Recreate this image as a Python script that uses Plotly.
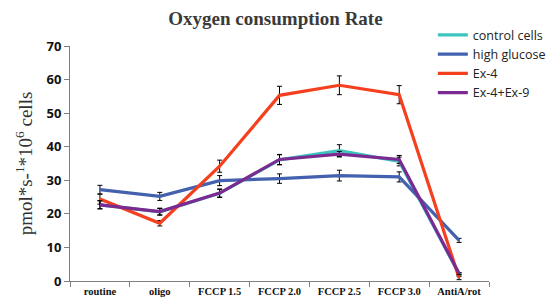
import plotly.graph_objects as go

categories = ["routine", "oligo", "FCCP 1.5", "FCCP 2.0", "FCCP 2.5", "FCCP 3.0", "AntiA/rot"]

control_vals = [22.7, 20.6, 26.1, 36.1, 38.8, 35.6, 2.1]
control_err = [1.2, 1.0, 1.2, 1.5, 1.8, 1.3, 0.3]
hg_vals = [27.2, 25.2, 29.9, 30.5, 31.4, 31.0, 12.1]
hg_err = [1.3, 1.2, 1.5, 1.4, 1.6, 1.5, 0.6]
ex4_vals = [24.4, 17.2, 34.2, 55.3, 58.3, 55.5, 0.9]
ex4_err = [1.5, 0.8, 1.8, 2.7, 2.8, 2.7, 0.5]
ex49_vals = [22.7, 20.7, 26.2, 36.2, 37.8, 36.2, 2.2]
ex49_err = [1.2, 1.0, 1.2, 1.5, 0.8, 1.2, 0.3]

series = [
    ("control cells", control_vals, control_err, "#3CC4BF"),
    ("high glucose", hg_vals, hg_err, "#4361AE"),
    ("Ex-4", ex4_vals, ex4_err, "#F4401E"),
    ("Ex-4+Ex-9", ex49_vals, ex49_err, "#7B2A91"),
]

fig = go.Figure()
for name, vals, err, col in series:
    fig.add_trace(go.Scatter(
        x=categories, y=vals, name=name, mode="lines",
        line=dict(color=col, width=3.2),
        error_y=dict(type="data", array=err, color="black", thickness=1, width=2.5),
    ))

fig.update_layout(
    width=551, height=303,
    margin=dict(l=70, r=62, t=46, b=22, autoexpand=False),
    paper_bgcolor="white", plot_bgcolor="white",
    title=dict(text="<b>Oxygen consumption Rate</b>", x=0.5, xanchor="center", y=0.94, yanchor="middle",
               font=dict(family="Liberation Serif", size=19, color="#3a3a3a")),
    showlegend=True,
    legend=dict(x=0.866, y=1.11, xanchor="left", yanchor="top", bgcolor="rgba(0,0,0,0)",
                font=dict(family="Open Sans", size=12.5, color="#222222"),
                itemwidth=30, tracegroupgap=0),
    xaxis=dict(type="category", range=[-0.5, 6.5], showline=True, linecolor="#7f7f7f", linewidth=1,
               ticks="outside", tickson="boundaries", ticklen=5, tickcolor="#7f7f7f",
               showgrid=False, zeroline=False, tickangle=0, automargin=False,
               tickfont=dict(family="Liberation Serif", size=10.5, color="#111111"),
               tickprefix="<b>", ticksuffix="</b>"),
    yaxis=dict(range=[0, 70], dtick=10, showline=True, linecolor="#7f7f7f", linewidth=1,
               ticks="outside", ticklen=5, tickcolor="#7f7f7f", showgrid=False, zeroline=False,
               tickfont=dict(family="Open Sans", size=13, color="#111111"),
               tickprefix="<b>", ticksuffix="</b>", automargin=False,
               title=dict(text="pmol*s-<sup>1</sup>*10<sup>6</sup> cells", standoff=8,
                          font=dict(family="Liberation Serif", size=19, color="#333333"))),
)

fig.write_html("out.html", config={"displayModeBar": False},
               post_script="document.body.style.margin='0';document.body.style.overflow='hidden';")
